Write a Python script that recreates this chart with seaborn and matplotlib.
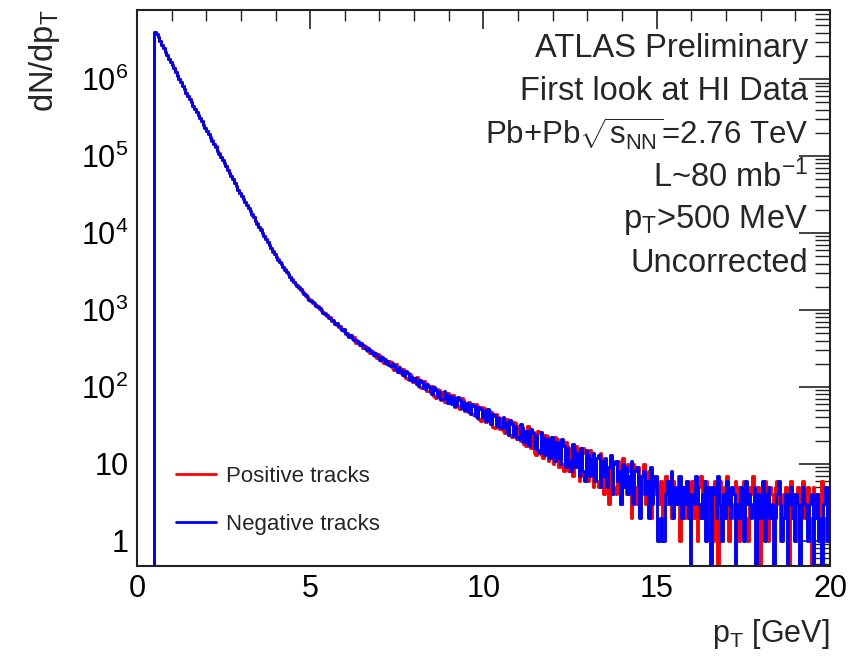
import numpy as np
import pandas as pd
import matplotlib
matplotlib.use("Agg")
import matplotlib.pyplot as plt
import seaborn as sns
from matplotlib.ticker import FixedLocator, FixedFormatter, LogLocator, NullFormatter, MultipleLocator

# ---------------- data, bins of 0.05 GeV from 0 to 20 ----------------
bin_edges_start = 0.0
bin_width = 0.05

neg_counts = [
    0, 0, 0, 0, 0, 0, 0, 0, 0, 0,
    4080000, 3880000, 3480000, 3150000, 2770000, 2500000, 2250000, 2030000, 1830000, 1650000,
    1510000, 1370000, 1230000, 1110000, 1000000, 908000, 816000, 738000, 663000, 600000,
    551000, 500000, 448000, 407000, 373000, 338000, 310000, 281000, 252000, 229000,
    210000, 191000, 174000, 158000, 145000, 132000, 117000, 107000, 97800, 89000,
    81500, 73800, 66300, 60000, 55200, 50000, 44900, 40600, 36500, 33000,
    30200, 27500, 25100, 22900, 20900, 19100, 17400, 15900, 14400, 13200,
    12000, 11000, 10000, 9120, 8310, 7580, 6920, 6310, 5760, 5250,
    4860, 4510, 4220, 3920, 3600, 3340, 3130, 2910, 2670, 2480,
    2330, 2150, 2040, 1960, 1850, 1710, 1610, 1550, 1470, 1350,
    1300, 1280, 1220, 1120, 1080, 1060, 995, 915, 880, 862,
    812, 779, 741, 716, 650, 668, 620, 588, 541, 563,
    502, 476, 448, 469, 436, 412, 401, 380, 352, 371,
    345, 318, 297, 322, 301, 279, 256, 278, 262, 239,
    222, 247, 230, 206, 214, 191, 186, 207, 193, 170,
    158, 182, 166, 144, 139, 160, 151, 124, 135, 118,
    129, 110, 104, 122, 116, 96, 93, 110, 101, 86,
    80, 99, 92, 74, 86, 70, 69, 88, 81, 62,
    76, 60, 74, 57, 58, 73, 68, 53, 64, 50,
    62, 47, 45, 60, 56, 42, 39, 55, 51, 40,
    48, 36, 52, 38, 33, 45, 42, 31, 39, 30,
    29, 41, 35, 26, 24, 37, 33, 23, 31, 22,
    21, 33, 29, 19, 27, 18, 17, 28, 25, 16,
    24, 15, 14, 26, 22, 13, 21, 15, 12, 22,
    20, 11, 19, 12, 10, 21, 17, 9, 16, 11,
    8, 18, 15, 9, 14, 7, 16, 8, 6, 15,
    13, 7, 12, 14, 6, 12, 13, 5, 11, 7,
    12, 5, 9, 13, 4, 10, 11, 6, 8, 3,
    10, 5, 9, 4, 7, 11, 3, 8, 9, 5,
    2, 7, 8, 4, 6, 2, 9, 3, 5, 7,
    1, 1, 2, 1, 1, 4, 6, 3, 8, 2,
    5, 3, 4, 7, 2, 5, 3, 6, 2, 0,
    4, 3, 7, 5, 3, 2, 4, 6, 1, 5,
    3, 0, 5, 4, 2, 7, 3, 1, 4, 2,
    6, 3, 2, 5, 4, 0, 3, 2, 5, 4,
    1, 6, 3, 4, 2, 3, 5, 0, 4, 2,
    3, 6, 1, 4, 5, 2, 3, 0, 2, 4,
    6, 3, 1, 2, 4, 0, 3, 5, 2, 1,
    4, 3, 0, 2, 5, 3, 2, 1, 3, 4,
    0, 2, 4, 1, 2, 0, 3, 5, 1, 2,
]

pos_counts = [
    0, 0, 0, 0, 0, 0, 0, 0, 0, 0,
    4060000, 3890000, 3470000, 3160000, 2760000, 2510000, 2240000, 2040000, 1820000, 1660000,
    1500000, 1380000, 1220000, 1120000, 995000, 912000, 812000, 742000, 660000, 603000,
    548000, 503000, 446000, 409000, 371000, 340000, 308000, 283000, 251000, 230000,
    209000, 192000, 173000, 159000, 144000, 133000, 116000, 108000, 97200, 89500,
    81000, 74200, 66000, 60300, 54900, 50300, 44600, 40900, 36300, 33200,
    30000, 27700, 24900, 23100, 20800, 19200, 17300, 16000, 14300, 13300,
    11900, 11100, 9950, 9180, 8260, 7630, 6880, 6350, 5730, 5280,
    4830, 4540, 4190, 3950, 3580, 3360, 3110, 2930, 2650, 2500,
    2290, 2190, 2080, 1920, 1810, 1750, 1650, 1510, 1430, 1390,
    1340, 1240, 1180, 1160, 1120, 1020, 965, 945, 908, 836,
    785, 806, 710, 747, 672, 641, 597, 615, 566, 530,
    484, 505, 471, 440, 418, 441, 372, 398, 376, 349,
    322, 339, 328, 291, 275, 296, 284, 252, 240, 266,
    251, 217, 204, 233, 197, 220, 209, 178, 168, 196,
    178, 155, 150, 172, 161, 131, 127, 147, 140, 114,
    116, 135, 125, 101, 98, 119, 113, 88, 89, 104,
    102, 77, 71, 94, 90, 68, 85, 64, 66, 84,
    62, 79, 78, 55, 70, 56, 52, 71, 67, 48,
    49, 64, 58, 44, 43, 60, 57, 38, 36, 54,
    53, 35, 40, 49, 47, 30, 29, 44, 41, 28,
    39, 27, 25, 38, 36, 24, 22, 35, 34, 21,
    31, 20, 30, 18, 17, 31, 28, 16, 26, 14,
    13, 27, 25, 13, 12, 24, 23, 11, 20, 12,
    10, 22, 21, 9, 18, 10, 8, 19, 17, 8,
    16, 7, 9, 17, 15, 6, 7, 16, 14, 8,
    6, 15, 13, 5, 12, 6, 5, 14, 12, 4,
    11, 6, 3, 12, 10, 5, 4, 11, 9, 3,
    12, 6, 4, 10, 8, 2, 10, 5, 3, 9,
    7, 4, 10, 3, 5, 8, 2, 6, 7, 4,
    5, 3, 6, 2, 4, 7, 3, 5, 2, 6,
    4, 3, 7, 1, 5, 4, 2, 6, 3, 5,
    6, 2, 4, 1, 5, 7, 2, 4, 6, 3,
    3, 5, 1, 6, 4, 0, 6, 3, 2, 5,
    7, 1, 4, 3, 2, 6, 5, 1, 3, 4,
    6, 2, 1, 5, 4, 7, 3, 2, 5, 0,
    2, 4, 6, 3, 1, 5, 4, 2, 5, 6,
    3, 1, 2, 4, 5, 3, 0, 6, 4, 2,
    1, 5, 3, 4, 6, 2, 4, 5, 2, 0,
    5, 3, 3, 2, 4, 6, 2, 1, 5, 3,
]

series_labels = ["Positive tracks", "Negative tracks"]
x_ticks = [0, 5, 10, 15, 20]
y_ticks = [1, 10, 100, 1000, 10000, 100000, 1000000]
y_ticklabels = ["1", "10", "$10^{2}$", "$10^{3}$", "$10^{4}$", "$10^{5}$", "$10^{6}$"]
info_lines = [
    "ATLAS Preliminary",
    "First look at HI Data",
    r"Pb+Pb$\sqrt{\mathrm{s}_{\mathrm{NN}}}$=2.76 TeV",
    r"L~80 mb$^{\mathrm{-1}}$",
    r"p$_{\mathrm{T}}$>500 MeV",
    "Uncorrected",
]
info_sizes = [23.5, 23.5, 22.5, 23.5, 23.5, 23.5]

# ---------------- style ----------------
sns.set_theme(style="white")
plt.rcParams["font.family"] = ["Liberation Sans", "DejaVu Sans"]
plt.rcParams["mathtext.fontset"] = "custom"
plt.rcParams["mathtext.rm"] = "Liberation Sans"
plt.rcParams["mathtext.it"] = "Liberation Sans"
plt.rcParams["mathtext.bf"] = "Liberation Sans:bold"
plt.rcParams["mathtext.sf"] = "Liberation Sans"

YMIN, YMAX = 0.47, 7.9e6


def step_frame(counts, label):
    v = np.maximum(np.asarray(counts, dtype=float), YMIN)
    edges = bin_edges_start + bin_width * np.arange(len(v) + 1)
    return pd.DataFrame({"pt": edges, "count": np.append(v, v[-1]), "charge": label})


df = pd.concat([step_frame(pos_counts, series_labels[0]),
                step_frame(neg_counts, series_labels[1])], ignore_index=True)

fig = plt.figure(figsize=(8.61, 6.62), dpi=100)
ax = fig.add_axes([0.159, 0.145, 0.805, 0.840])

colors = {series_labels[0]: "#ff0000", series_labels[1]: "#0000ff"}
for lab in series_labels:
    sub = df[df["charge"] == lab]
    sns.lineplot(data=sub, x="pt", y="count", drawstyle="steps-post", estimator=None,
                 color=colors[lab], linewidth=2.1, ax=ax, label=lab, legend=False)

ax.set_yscale("log")
ax.set_xlim(0, 20)
ax.set_ylim(YMIN, YMAX)
ax.set_xlabel("")
ax.set_ylabel("")

# ticks, ROOT-like
ax.xaxis.set_major_locator(FixedLocator(x_ticks))
ax.xaxis.set_minor_locator(MultipleLocator(1))
ax.yaxis.set_major_locator(FixedLocator(y_ticks))
ax.yaxis.set_major_formatter(FixedFormatter(y_ticklabels))
ax.yaxis.set_minor_locator(LogLocator(base=10, subs=np.arange(2, 10), numticks=20))
ax.yaxis.set_minor_formatter(NullFormatter())
ax.tick_params(axis="both", which="both", direction="in", top=True, right=True,
               colors="#222222", labelcolor="black")
ax.tick_params(axis="x", which="major", length=14, width=1.2, labelsize=22, pad=6)
ax.tick_params(axis="x", which="minor", length=8, width=1.0)
ax.tick_params(axis="y", which="major", length=22, width=1.2, labelsize=22, pad=6)
ax.tick_params(axis="y", which="minor", length=11, width=1.0)
for s in ax.spines.values():
    s.set_color("#222222")
    s.set_linewidth(1.5)

# axis titles
fig.text(45 / 861, 1 - 9 / 662, r"dN/dp$_{\mathrm{T}}$", rotation=90, ha="center", va="top", fontsize=23.5)
fig.text(830 / 861, 1 - 634 / 662, r"p$_{\mathrm{T}}$ [GeV]", ha="right", va="center", fontsize=22)

# info text
y0 = 48
for i, t in enumerate(info_lines):
    fig.text(808 / 861, 1 - (y0 + 43 * i) / 662, t, ha="right", va="center", fontsize=info_sizes[i])

# legend
handles = [plt.Line2D([], [], color=colors[l], linewidth=2.0) for l in series_labels]
leg = ax.legend(handles, series_labels, loc="lower left", bbox_to_anchor=(0.027, 0.02),
                frameon=False, fontsize=16, handlelength=1.8, handletextpad=0.45,
                labelspacing=1.2)

fig.savefig("out.png", dpi=100)
